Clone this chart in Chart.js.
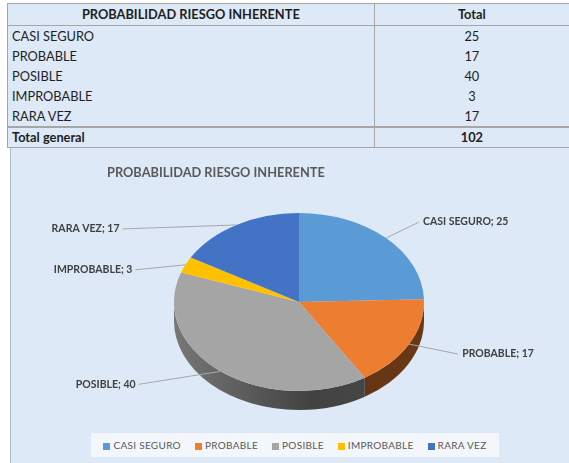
<!DOCTYPE html>
<html lang="es">
<head>
<meta charset="UTF-8">
<title>Probabilidad riesgo inherente</title>
<script src="https://cdn.jsdelivr.net/npm/chart.js"></script>
<style>
  body { margin:0; width:569px; height:463px; overflow:hidden; background:#fff; font-family:Lato, sans-serif; position:relative; }
  #tbl { position:absolute; left:7px; top:3px; border-collapse:collapse; background:#dde9f6; font-size:12.8px; color:#1e1e1e; }
  #tbl td, #tbl th { padding:0 4px; height:20px; line-height:20px; white-space:nowrap; }
  #tbl th { height:21px; line-height:21px; font-weight:700; text-align:center; border-top:1px solid #a6a6a6; border-bottom:1px solid #a6a6a6; }
  #tbl td:first-child, #tbl th:first-child { width:361px; border-left:1px solid #a6a6a6; border-right:1px solid #a6a6a6; }
  #tbl td:last-child, #tbl th:last-child { width:190px; text-align:center; }
  #tbl tr.total td { height:19px; line-height:19px; font-weight:700; border-top:2px solid #a6a6a6; border-bottom:1px solid #a6a6a6; }
  #panel { position:absolute; left:10px; top:148px; width:560px; height:320px; background:#dde9f6; border-left:1px solid #b4bcc6; }
  #chartTitle { position:absolute; left:96px; top:16px; font-size:12.8px; font-weight:700; color:#595959; }
  #cv { position:absolute; left:0; top:0; }
  #legend { position:absolute; left:80px; top:285px; width:408px; height:24px; background:#f3f7fc; display:flex; justify-content:center; align-items:center; gap:14px; font-size:10px; color:#595959; letter-spacing:0.3px; }
  #legend span.sw { display:inline-block; width:7px; height:7px; margin-right:3px; vertical-align:-0.5px; }
</style>
</head>
<body>
<table id="tbl"></table>
<div id="panel">
  <canvas id="cv" width="559" height="315"></canvas>
  <div id="chartTitle"></div>
  <div id="legend"></div>
</div>
<script>
const tableTitle = 'PROBABILIDAD RIESGO INHERENTE';
const totalHeader = 'Total';
const totalLabel = 'Total general';
const categories = ['CASI SEGURO', 'PROBABLE', 'POSIBLE', 'IMPROBABLE', 'RARA VEZ'];
const totals = [25, 17, 40, 3, 17];
const sliceColors = ['#5b9bd5', '#ed7d31', '#a5a5a5', '#ffc000', '#4472c4'];

const SQUASH = 0.712;   // vertical squash of the pie top
const DEPTH = 19;       // thickness of the pie side, px

// table
const tbl = document.getElementById('tbl');
let html = `<tr><th>${tableTitle}</th><th>${totalHeader}</th></tr>`;
categories.forEach((c, i) => { html += `<tr><td>${c}</td><td>${totals[i]}</td></tr>`; });
html += `<tr class="total"><td>${totalLabel}</td><td>${totals.reduce((a, b) => a + b, 0)}</td></tr>`;
tbl.innerHTML = html;

document.getElementById('chartTitle').textContent = tableTitle;
document.getElementById('legend').innerHTML = categories
  .map((c, i) => `<span><span class="sw" style="background:${sliceColors[i]}"></span>${c}</span>`).join('');

function shade(hex, f) {
  const n = parseInt(hex.slice(1), 16);
  const r = Math.round(((n >> 16) & 255) * f), g = Math.round(((n >> 8) & 255) * f), b = Math.round((n & 255) * f);
  return `rgb(${r},${g},${b})`;
}

// draws the side wall, then squashes the top face drawn by Chart.js
const pie3d = {
  id: 'pie3d',
  beforeDatasetsDraw(chart) {
    const ctx = chart.ctx;
    const arcs = chart.getDatasetMeta(0).data;
    if (!arcs.length) return;
    const cx = arcs[0].x, cy = arcs[0].y, r = arcs[0].outerRadius;
    ctx.save();
    arcs.forEach((arc, i) => {
      const a0 = Math.max(arc.startAngle, 0), a1 = Math.min(arc.endAngle, Math.PI);
      if (a1 <= a0) return;
      const grad = ctx.createLinearGradient(cx - r, 0, cx + r, 0);
      grad.addColorStop(0, shade(sliceColors[i], 0.72));
      grad.addColorStop(0.55, shade(sliceColors[i], 0.4));
      grad.addColorStop(1, shade(sliceColors[i], 0.45));
      ctx.beginPath();
      ctx.ellipse(cx, cy, r, r * SQUASH, 0, a0, a1);
      ctx.ellipse(cx, cy + DEPTH, r, r * SQUASH, 0, a1, a0, true);
      ctx.closePath();
      ctx.fillStyle = grad;
      ctx.fill();
    });
    ctx.restore();
    ctx.save();
    ctx.translate(cx, cy);
    ctx.scale(1, SQUASH);
    ctx.translate(-cx, -cy);
  },
  afterDatasetsDraw(chart) {
    chart.ctx.restore();
  }
};

const leaderLabels = {
  id: 'leaderLabels',
  afterDatasetsDraw(chart, args, opts) {
    const ctx = chart.ctx;
    const arcs = chart.getDatasetMeta(0).data;
    ctx.save();
    ctx.font = 'bold 10.5px Lato';
    ctx.fillStyle = '#404040';
    ctx.strokeStyle = '#a6a6a6';
    ctx.lineWidth = 1;
    ctx.textBaseline = 'middle';
    arcs.forEach((arc, i) => {
      const mid = (arc.startAngle + arc.endAngle) / 2;
      const ax = arc.x + arc.outerRadius * Math.cos(mid);
      const ay = arc.y + arc.outerRadius * SQUASH * Math.sin(mid);
      const [dx, dy] = opts.offsets[i];
      const ex = ax + dx, ey = ay + dy;
      ctx.beginPath();
      ctx.moveTo(ax, ay);
      ctx.lineTo(ex, ey);
      ctx.stroke();
      const txt = categories[i] + '; ' + totals[i];
      ctx.textAlign = dx > 0 ? 'left' : 'right';
      ctx.fillText(txt, ex + (dx > 0 ? 4 : -3), ey);
    });
    ctx.restore();
  }
};

new Chart(document.getElementById('cv'), {
  type: 'pie',
  data: {
    labels: categories,
    datasets: [{
      data: totals,
      backgroundColor: sliceColors,
      borderWidth: 0,
      radius: 125,
      clip: false
    }]
  },
  options: {
    responsive: false,
    animation: false,
    layout: { padding: { left: 120, right: 103, top: 20, bottom: 27 } },
    plugins: {
      legend: { display: false },
      tooltip: { enabled: false },
      leaderLabels: { offsets: [[33, -16], [49, 10], [-82, 13], [-50, 5], [-114, 4]] }
    }
  },
  plugins: [pie3d, leaderLabels]
});
</script>
</body>
</html>
